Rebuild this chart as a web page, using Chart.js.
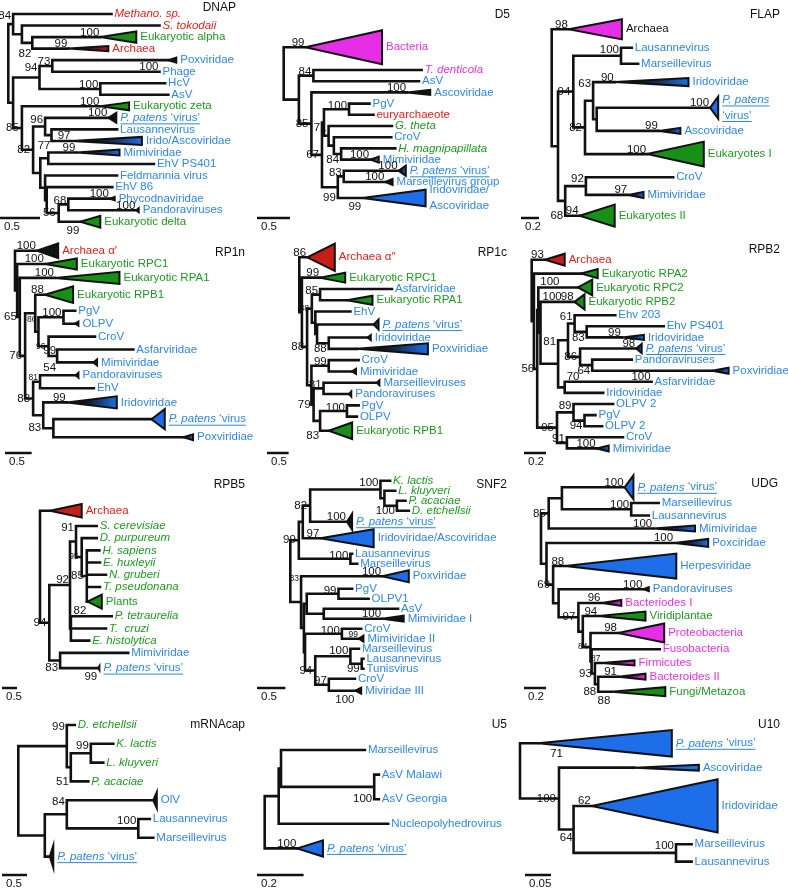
<!DOCTYPE html>
<html>
<head>
<meta charset="utf-8">
<script src="https://cdn.jsdelivr.net/npm/chart.js@4.4.0/dist/chart.umd.min.js"></script>
<style>
  body { margin: 0; background: #fff; }
  #wrap { position: relative; width: 788px; height: 890px; }
  #wrap canvas { position: absolute; left: 0; top: 0; }
</style>
</head>
<body>
<div id="wrap"></div>
<script>
// Trees: internal node = {x, s (support), p (label spot), k: children}
// leaf = {n: label, c: label colour, x: tip or clade apex, e: clade end, h: clade half height (rows), t: clade fill, r: rows taken}
// x is distance from the root in substitutions per site.
// '*' toggles italics, '_' underlines, '|' breaks the line.

const dnapTree = {x:0, k:[
  {x:.06, s:'84', p:'lt', k:[
    {n:'*Methano. sp.*', c:'r', x:1.29},
    {x:.17, k:[
      {n:'*S. tokodaii*', c:'r', x:1.89},
      {x:.30, s:'82', p:'bl', k:[
        {n:'Eukaryotic alpha', c:'g', x:1.15, e:1.60, h:.49, t:'g', s:'100'},
        {n:'Archaea', c:'r', x:.75, e:1.25, h:.23, t:'d', s:'99'}
      ]}
    ]}
  ]},
  {x:.06, k:[
    {x:.39, s:'94', p:'lt', k:[
      {x:.55, s:'73', p:'lt', k:[
        {n:'Poxviridae', c:'b', x:2.0, e:2.10, h:.22, t:'k'},
        {n:'Phage', c:'b', x:1.89, s:'100'}
      ]},
      {x:1.15, s:'100', p:'lt', k:[
        {n:'HcV', c:'b', x:1.96},
        {n:'AsV', c:'b', x:2.0}
      ]}
    ]},
    {x:.17, s:'85', p:'ml', k:[
      {n:'Eukaryotic zeta', c:'g', x:1.15, e:1.51, h:.35, t:'g', s:'100'},
      {x:.31, s:'82', p:'ml', k:[
        {x:.46, s:'96', p:'lt', k:[
          {n:'_*P. patens* ‘virus’', c:'b', x:1.25, e:1.35, h:.43, t:'k', s:'100'},
          {x:.54, s:'77', p:'bl', k:[
            {n:'Lausannevirus', c:'b', x:1.36},
            {n:'Irido/Ascoviridae', c:'b', x:.79, e:1.67, h:.35, t:'q', s:'97'}
          ]}
        ]},
        {x:.40, k:[
          {x:.50, k:[
            {n:'Mimiviridae', c:'b', x:.85, e:1.39, h:.26, t:'q', s:'99'},
            {n:'EhV PS401', c:'b', x:1.82}
          ]},
          {x:.46, k:[
            {n:'Feldmannia virus', c:'b', x:1.36},
            {x:.48, k:[
              {n:'EhV 86', c:'b', x:1.30},
              {x:.63, s:'56', p:'ml', k:[
                {x:.75, s:'68', p:'lt', k:[
                  {n:'Phycodnaviridae', c:'b', x:1.27, e:1.33, h:.15, t:'k', s:'100'},
                  {n:'Pandoraviruses', c:'b', x:1.60, e:1.63, h:.17, t:'k', s:'100'}
                ]},
                {n:'Eukaryotic delta', c:'g', x:.90, e:1.15, h:.52, t:'g', s:'99', p:'be'}
              ]}
            ]}
          ]}
        ]}
      ]}
    ]}
  ]}
]};

const d5Tree = {x:0, k:[
  {n:'Bacteria', c:'m', x:.33, e:1.49, h:1.52, t:'m', s:'99', r:3.05},
  {x:.23, k:[
    {x:.45, s:'84', p:'lt', k:[
      {n:'*T. denticola*', c:'m', x:2.09},
      {n:'AsV', c:'b', x:2.05}
    ]},
    {x:.42, s:'85', p:'ml', k:[
      {n:'Ascoviridae', c:'b', x:1.87, e:2.22, h:.22, t:'k', s:'100'},
      {x:.58, s:'67', p:'ml', k:[
        {x:.61, k:[
          {x:.99, s:'100', p:'lt', k:[
            {n:'PgV', c:'b', x:1.30},
            {n:'euryarchaeote', c:'r', x:1.36}
          ]},
          {x:.68, s:'71', p:'lt', k:[
            {n:'*G. theta*', c:'g', x:1.64},
            {x:.76, k:[
              {n:'CroV', c:'b', x:1.63},
              {x:.87, s:'84', p:'lb', k:[
                {n:'*H. magnipapillata*', c:'g', x:1.69},
                {n:'Mimiviridae', c:'b', x:1.31, e:1.44, h:.27, t:'q', s:'100'}
              ]}
            ]}
          ]}
        ]},
        {x:.82, s:'99', p:'lb', k:[
          {x:.91, s:'83', p:'lt', k:[
            {n:'_*P. patens* ‘virus’', c:'b', x:1.74, e:1.85, h:.45, t:'q', s:'100'},
            {n:'Marseillevirus group', c:'b', x:1.54, e:1.65, h:.27, t:'k', s:'100'}
          ]},
          {n:'Iridoviridae/|Ascoviridae', c:'b', x:1.19, e:2.15, h:.74, t:'b', s:'99', p:'be', r:1.86}
        ]}
      ]}
    ]}
  ]}
]};

const flapTree = {x:0, k:[
  {n:'Archaea', c:'k', x:.19, e:.78, h:.63, t:'m', s:'98', r:1.3},
  {x:.07, k:[
    {x:.24, s:'94', p:'ml', k:[
      {x:.77, s:'100', p:'lt', k:[
        {n:'Lausannevirus', c:'b', x:.89},
        {n:'Marseillevirus', c:'b', x:.96}
      ]},
      {x:.37, s:'82', p:'ml', k:[
        {x:.46, s:'63', p:'lt', k:[
          {n:'Iridoviridae', c:'b', x:.70, e:1.52, h:.25, t:'q', s:'90', r:1.3},
          {x:.50, k:[
            {n:'_*P. patens*|‘virus’', c:'b', x:1.76, e:1.85, h:.69, t:'b', s:'100', r:1.9},
            {n:'Ascoviridae', c:'b', x:1.19, e:1.43, h:.19, t:'q', s:'99'}
          ]}
        ]},
        {n:'Eukaryotes I', c:'g', x:1.06, e:1.69, h:.78, t:'g', s:'100', r:1.9}
      ]}
    ]},
    {x:.15, s:'68', p:'lb', k:[
      {x:.38, s:'92', p:'lt', k:[
        {n:'CroV', c:'b', x:1.35},
        {n:'Mimiviridae', c:'b', x:.85, e:1.02, h:.19, t:'q', s:'97', r:1.2}
      ]},
      {n:'Eukaryotes II', c:'g', x:.31, e:.70, h:.69, t:'g', s:'94', r:1.4}
    ]}
  ]}
]};

const rp1nTree = {x:0, k:[
  {n:'Archaea α′', c:'r', x:.41, e:.81, h:.57, t:'k', s:'100'},
  {x:.04, k:[
    {n:'Eukaryotic RPC1', c:'g', x:.56, e:1.16, h:.43, t:'g', s:'100', r:1.06},
    {x:.09, s:'65', p:'ml', k:[
      {n:'Eukaryotic RPA1', c:'g', x:.75, e:1.96, h:.47, t:'g', s:'100', r:1.1},
      {x:.19, s:'76', p:'ml', k:[
        {x:.38, k:[
          {n:'Eukaryotic RPB1', c:'g', x:.56, e:1.09, h:.64, t:'g', s:'88', r:1.5},
          {x:.44, s:'86', p:'lt', z:1, k:[
            {x:.91, s:'100', p:'lt', k:[
              {n:'PgV', c:'b', x:1.13},
              {n:'OLPV', c:'b', x:1.13, e:1.19, h:.16, t:'k'}
            ]},
            {x:.63, s:'96', p:'ml', z:1, k:[
              {n:'CroV', c:'b', x:1.5},
              {x:.79, s:'99', p:'ab', s2:'54', p2:'bl', k:[
                {n:'Asfarviridae', c:'b', x:2.22},
                {n:'Mimiviridae', c:'b', x:1.47, e:1.54, h:.23, t:'q'}
              ]}
            ]}
          ]}
        ]},
        {x:.34, s:'83', p:'ml', k:[
          {x:.47, s:'81', p:'lt', z:1, k:[
            {n:'Pandoraviruses', c:'b', x:1.14, e:1.19, h:.19, t:'k'},
            {n:'EhV', c:'b', x:1.48}
          ]},
          {x:.53, s:'83', p:'lb', k:[
            {n:'Iridoviridae', c:'b', x:.97, e:1.91, h:.47, t:'q', s:'99', r:1.2},
            {x:.72, k:[
              {n:'_*P. patens* ‘virus', c:'b', x:2.56, e:2.81, h:.78, t:'b', r:1.4},
              {n:'Poxviridiae', c:'b', x:3.16, e:3.34, h:.23, t:'q', r:1.4}
            ]}
          ]}
        ]}
      ]}
    ]}
  ]}
]};

const rp1cTree = {x:0, k:[
  {n:'Archaea α″', c:'r', x:.18, e:.82, h:1.21, t:'r', s:'86', r:2.6},
  {x:.06, k:[
    {n:'Eukaryotic RPC1', c:'g', x:.48, e:1.06, h:.44, t:'g', s:'99'},
    {x:.18, s:'88', p:'ml', k:[
      {x:.29, s:'88', p:'ml', z:1, k:[
        {x:.48, s:'85', p:'lt', k:[
          {n:'Asfarviridae', c:'b', x:2.14},
          {n:'Eukaryotic RPA1', c:'g', x:1.10, e:1.69, h:.4, t:'g'}
        ]},
        {x:.37, k:[
          {n:'EhV', c:'b', x:1.18},
          {x:.41, k:[
            {n:'_*P. patens* ‘virus’', c:'b', x:1.72, e:1.83, h:.44, t:'q', r:1.3},
            {x:.68, s:'88', p:'lb', k:[
              {n:'Iridoviridae', c:'b', x:1.58, e:1.65, h:.22, t:'k'},
              {n:'Poxviridiae', c:'b', x:1.33, e:2.97, h:.49, t:'q'}
            ]}
          ]}
        ]}
      ]},
      {x:.28, k:[
        {x:.68, s:'99', p:'lt', k:[
          {n:'CroV', c:'b', x:1.37},
          {n:'Mimiviridae', c:'b', x:1.22, e:1.31, h:.22, t:'k'}
        ]},
        {x:.33, s:'79', p:'ml', k:[
          {x:.56, s:'81', p:'lt', k:[
            {n:'Marseilleviruses', c:'b', x:1.79, e:1.85, h:.22, t:'k'},
            {n:'Pandoraviruses', c:'b', x:1.15, e:1.2, h:.22, t:'k'}
          ]},
          {x:.48, s:'83', p:'bl', k:[
            {x:1.1, s:'100', p:'lt', k:[
              {n:'PgV', c:'b', x:1.37},
              {n:'OLPV', c:'b', x:1.33}
            ]},
            {n:'Eukaryotic RPB1', c:'g', x:.68, e:1.22, h:.73, t:'g', r:1.5}
          ]}
        ]}
      ]}
    ]}
  ]}
]};

const rpb2Tree = {x:0, k:[
  {n:'Archaea', c:'r', x:.12, e:.30, h:.54, t:'r', s:'93', r:1.2},
  {x:.02, k:[
    {n:'Eukaryotic RPA2', c:'g', x:.45, e:.60, h:.41, t:'g', r:1.3},
    {x:.05, s:'56', p:'ml', k:[
      {x:.06, s:'100', p:'at', k:[
        {n:'Eukaryotic RPC2', c:'g', x:.42, e:.55, h:.7, t:'g', r:1.2},
        {x:.08, s:'100', p:'at', k:[
          {n:'Eukaryotic RPB2', c:'g', x:.39, e:.48, h:.68, t:'g', s:'98', r:1.4},
          {x:.24, s:'81', p:'lt', k:[
            {x:.33, k:[
              {x:.39, s:'61', p:'lt', k:[
                {n:'Ehv 203', c:'b', x:.76},
                {x:.50, s:'83', p:'lb', k:[
                  {n:'Ehv PS401', c:'b', x:1.2},
                  {n:'Iridoviridae', c:'b', x:.82, e:1.02, h:.23, t:'q', s:'99'}
                ]}
              ]},
              {x:.44, s:'86', p:'ml', k:[
                {n:'_*P. patens* ‘virus’', c:'b', x:.95, e:1.0, h:.41, t:'q', s:'98'},
                {x:.55, s:'64', p:'lb', k:[
                  {n:'Pandoraviruses', c:'b', x:.91},
                  {n:'Poxviridiae', c:'b', x:1.64, e:1.79, h:.27, t:'q'}
                ]}
              ]}
            ]},
            {x:.30, s:'70', p:'at', k:[
              {n:'Asfarviridae', c:'b', x:1.09, s:'100'},
              {n:'Iridoviridae', c:'b', x:.65}
            ]}
          ]}
        ]}
      ]},
      {x:.23, s:'95', p:'ml', k:[
        {x:.38, s:'89', p:'lt', k:[
          {n:'OLPV 2', c:'b', x:.74},
          {x:.48, s:'94', p:'lb', k:[
            {n:'PgV', c:'b', x:.58},
            {n:'OLPV 2', c:'b', x:.64}
          ]}
        ]},
        {x:.32, s:'91', p:'lt', k:[
          {n:'CroV', c:'b', x:.83},
          {n:'Mimiviridae', c:'b', x:.59, e:.70, h:.27, t:'q', s:'100'}
        ]}
      ]}
    ]}
  ]}
]};

const rpb5Tree = {x:0, k:[
  {n:'Archaea', c:'r', x:.33, e:1.39, h:.55, t:'r', r:1.5},
  {x:.31, s:'94', p:'ml', k:[
    {x:1.0, s:'92', p:'ab', k:[
      {x:1.2, s:'91', p:'lt', k:[
        {n:'*S. cerevisiae*', c:'g', x:1.89},
        {x:1.39, s:'95', p:'ml', z:1, k:[
          {n:'*D. purpureum*', c:'g', x:1.89},
          {x:1.56, s:'85', p:'ml', k:[
            {n:'*H. sapiens*', c:'g', x:1.98},
            {n:'*E. huxleyii*', c:'g', x:2.0},
            {n:'*N. gruberi*', c:'g', x:2.2},
            {n:'*T. pseudonana*', c:'g', x:2.0},
            {n:'Plants', c:'g', x:1.58, e:2.06, h:.57, t:'g', s:'82', p:'be', r:1.4}
          ]}
        ]}
      ]},
      {x:1.03, k:[
        {n:'*P. tetraurelia*', c:'g', x:2.39},
        {n:'*T.  cruzi*', c:'g', x:2.2},
        {n:'*E. histolytica*', c:'g', x:1.64}
      ]}
    ]},
    {x:.67, s:'83', p:'lb', k:[
      {n:'Mimiviridae', c:'b', x:2.94},
      {n:'_*P. patens* ‘virus’', c:'b', x:1.94, e:1.98, h:.16, t:'k', s:'99', p:'be', r:1.5}
    ]}
  ]}
]};

const snf2Tree = {x:0, k:[
  {x:.15, s:'99', p:'ml', k:[
    {x:.22, k:[
      {x:.35, s:'82', p:'ml', k:[
        {x:1.59, s:'100', p:'lt', k:[
          {n:'*K. lactis*', c:'g', x:1.76},
          {x:1.66, k:[
            {n:'*L. kluyveri*', c:'g', x:1.85},
            {x:1.88, s:'100', p:'lb', k:[
              {n:'*P. acaciae*', c:'g', x:2.03},
              {n:'*D. etchellsii*', c:'g', x:2.09}
            ]}
          ]}
        ]},
        {n:'_*P. patens* ‘virus’', c:'b', x:1.0, e:1.09, h:.8, t:'k', s:'100', r:1.2}
      ]},
      {n:'Iridoviridae/Ascoviridae', c:'b', x:.53, e:1.47, h:.9, t:'b', s:'97', r:2.1}
    ]},
    {x:1.06, s:'100', p:'lt', k:[
      {n:'Lausannevirus', c:'b', x:1.09},
      {n:'Marseillevirus', c:'b', x:1.18}
    ]}
  ]},
  {x:.19, s:'83', p:'lt', z:1, k:[
    {n:'Poxviridae', c:'b', x:1.62, e:2.09, h:.6, t:'b', s:'100', r:1.5},
    {x:.24, k:[
      {x:.29, k:[
        {x:.85, s:'99', p:'lt', k:[
          {n:'PgV', c:'b', x:1.09},
          {n:'OLPV1', c:'b', x:1.38}
        ]},
        {x:.59, k:[
          {n:'AsV', c:'b', x:1.9},
          {n:'Mimiviridae I', c:'b', x:1.62, e:2.0, h:.3, t:'k', s:'100'}
        ]}
      ]},
      {x:.26, k:[
        {x:.91, s:'100', p:'lt', k:[
          {n:'CroV', c:'b', x:1.25},
          {n:'Mimiviridae II', c:'b', x:1.21, e:1.29, h:.3, t:'k', s:'99', z:1}
        ]},
        {x:.44, s:'94', p:'ml', k:[
          {x:1.06, s:'100', p:'lt', k:[
            {n:'Marseillevirus', c:'b', x:1.21},
            {x:1.26, s:'99', p:'lb', k:[
              {n:'Lausannevirus', c:'b', x:1.29},
              {n:'Tunisvirus', c:'b', x:1.29}
            ]}
          ]},
          {x:.68, s:'97', p:'lt', k:[
            {n:'CroV', c:'b', x:1.14},
            {n:'Miviridae III', c:'b', x:1.15, e:1.25, h:.3, t:'k', s:'100', p:'be', r:1.4}
          ]}
        ]}
      ]}
    ]}
  ]}
]};

const udgTree = {x:0, k:[
  {x:.07, s:'85', p:'ml', k:[
    {x:.19, k:[
      {n:'_*P. patens* ‘virus’', c:'b', x:.76, e:.84, h:.96, t:'b', s:'100', r:1.5},
      {x:.82, s:'100', p:'lt', k:[
        {n:'Marseillevirus', c:'b', x:1.07},
        {n:'Lausannevirus', c:'b', x:.98}
      ]}
    ]},
    {n:'Mimiviridae', c:'b', x:1.02, e:1.4, h:.24, t:'q', s:'100', r:1.1}
  ]},
  {x:.05, k:[
    {n:'Poxciridae', c:'b', x:1.21, e:1.52, h:.32, t:'q', s:'100', r:1.2},
    {x:.11, s:'69', p:'ml', k:[
      {n:'Herpesviridae', c:'b', x:.22, e:1.23, h:1.0, t:'b', s:'88', r:2.5},
      {x:.16, k:[
        {n:'Pandoraviruses', c:'b', x:.93, e:.98, h:.16, t:'k', s:'100', r:1.2},
        {x:.34, s:'97', p:'ml', k:[
          {n:'Bacteriodes I', c:'m', x:.55, e:.73, h:.24, t:'n', s:'96'},
          {x:.38, k:[
            {n:'Viridiplantae', c:'g', x:.52, e:.95, h:.36, t:'g', s:'94', r:1.1},
            {x:.45, s:'84', p:'ml', z:1, k:[
              {n:'Proteobacteria', c:'m', x:.70, e:1.12, h:.76, t:'m', s:'98', r:1.6},
              {x:.46, k:[
                {n:'Fusobacteria', c:'m', x:1.08},
                {x:.49, s:'93', p:'ml', k:[
                  {n:'Firmicutes', c:'m', x:.55, e:.85, h:.2, t:'n', s:'87', z:1, r:1.2},
                  {x:.52, s:'88', p:'lb', k:[
                    {n:'Bacteroides II', c:'m', x:.70, e:.95, h:.24, t:'n', s:'91'},
                    {n:'Fungi/Metazoa', c:'g', x:.64, e:1.13, h:.36, t:'g', s:'88', p:'be', r:1.4}
                  ]}
                ]}
              ]}
            ]}
          ]}
        ]}
      ]}
    ]}
  ]}
]};

const mrnaTree = {x:0, k:[
  {x:.97, s:'99', p:'lt', k:[
    {n:'*D. etchellsii*', c:'g', x:1.13},
    {x:1.05, s:'51', p:'lb', k:[
      {x:1.45, s:'99', p:'lt', k:[
        {n:'*K. lactis*', c:'g', x:1.9},
        {n:'*L. kluyveri*', c:'g', x:1.7}
      ]},
      {n:'*P. acaciae*', c:'g', x:1.4}
    ]}
  ]},
  {x:.53, k:[
    {x:.97, s:'84', p:'lt', k:[
      {n:'OlV', c:'b', x:2.7, e:2.77, h:.43, t:'k'},
      {x:2.4, s:'100', p:'lt', k:[
        {n:'Lausannevirus', c:'b', x:2.63},
        {n:'Marseillevirus', c:'b', x:2.7}
      ]}
    ]},
    {n:'_*P. patens* ‘virus’', c:'b', x:.63, e:.7, h:.59, t:'k'}
  ]}
]};

const u5Tree = {x:0, k:[
  {x:.06, k:[
    {x:.07, k:[
      {n:'Marseillevirus', c:'b', x:.43},
      {x:.47, s:'100', p:'lb', k:[
        {n:'AsV Malawi', c:'b', x:.49},
        {n:'AsV Georgia', c:'b', x:.49}
      ]}
    ]},
    {n:'Nucleopolyhedrovirus', c:'b', x:.53}
  ]},
  {n:'_*P. patens* ‘virus’', c:'b', x:.14, e:.25, h:.33, t:'b', s:'100'}
]};

const u10Tree = {x:0, k:[
  {n:'_*P. patens* ‘virus’', c:'b', x:.035, e:.292, h:.76, t:'b', s:'71', p:'br', r:1.8},
  {x:.075, s:'100', p:'ml', k:[
    {n:'Ascoviridae', c:'b', x:.22, e:.344, h:.17, t:'b'},
    {x:.103, s:'64', p:'be', k:[
      {n:'Iridoviridae', c:'b', x:.138, e:.38, h:1.53, t:'b', s:'62', r:3.4},
      {x:.30, s:'100', p:'lt', k:[
        {n:'Marseillevirus', c:'b', x:.33},
        {n:'Lausannevirus', c:'b', x:.33}
      ]}
    ]}
  ]}
]};

const titles = ['DNAP','D5','FLAP','RP1n','RP1c','RPB2','RPB5','SNF2','UDG','mRNAcap','U5','U10'];
const trees = [dnapTree, d5Tree, flapTree, rp1nTree, rp1cTree, rpb2Tree, rpb5Tree, snf2Tree, udgTree, mrnaTree, u5Tree, u10Tree];
const scaleBars = [0.5, 0.5, 0.2, 0.5, 0.5, 0.2, 0.5, 0.5, 0.2, 0.5, 0.2, 0.05];

// page layout for each panel (pixels)
const layout = [
  {rootX:8.3,   ppu:80,   firstY:14,    rowPx:11.54, titleX:236, titleY:8,   barX:0,   barY:218},
  {rootX:283.7, ppu:66,   firstY:47.3,  rowPx:11.2,  titleX:510, titleY:15,  barX:257, barY:218},
  {rootX:551.7, ppu:90,   firstY:29.3,  rowPx:16,    titleX:780, titleY:15,  barX:521, barY:218},
  {rootX:15,    ppu:53.3, firstY:250.7, rowPx:12.9,  titleX:245, titleY:253, barX:5,   barY:453},
  {rootX:299.3, ppu:43.3, firstY:257.3, rowPx:11.3,  titleX:507, titleY:253, barX:267, barY:453},
  {rootX:531.7, ppu:110,  firstY:259.7, rowPx:11.1,  titleX:780, titleY:250, barX:524, barY:453},
  {rootX:40,    ppu:30,   firstY:510.7, rowPx:12.2,  titleX:245, titleY:485, barX:2,   barY:688},
  {rootX:290.3, ppu:56.7, firstY:480.7, rowPx:10,    titleX:507, titleY:485, barX:257, barY:688},
  {rootX:541,   ppu:110,  firstY:487.3, rowPx:12.5,  titleX:778, titleY:484, barX:524, barY:688},
  {rootX:18.3,  ppu:50,   firstY:725,   rowPx:18.8,  titleX:245, titleY:725, barX:2,   barY:875},
  {rootX:264.7, ppu:233,  firstY:750,   rowPx:24.6,  titleX:507, titleY:725, barX:257, barY:875},
  {rootX:520,   ppu:520,  firstY:743.3, rowPx:17.4,  titleX:780, titleY:725, barX:525, barY:875}
];

const W = 788, H = 890;
const FONT = '"Liberation Sans", Arial, Helvetica, sans-serif';
const INK = '#111111';
const TEXT = {r:'#e3201b', g:'#1f9a20', b:'#2f86e8', m:'#e633e6', k:'#111111'};
// plain fills, or [apex colour, base colour] for shaded clades
const FILL = {r:'#c42019', d:['#111111', '#b01c16'], g:'#189018', b:'#1d6ee8',
              q:['#111111', '#1d6ee8'], m:'#e52ee5', n:['#3a0a3a', '#e52ee5'], k:'#111111'};

function drawRich(ctx, str, x, y, color, size) {
  let ul = false;
  if (str[0] === '_') { ul = true; str = str.slice(1); }
  const lines = str.split('|');
  const lh = size * 1.35;
  ctx.fillStyle = color;
  ctx.textBaseline = 'middle';
  ctx.textAlign = 'left';
  lines.forEach((line, i) => {
    const yy = y + (i - (lines.length - 1) / 2) * lh;
    let cx = x;
    line.split('*').forEach((seg, j) => {
      if (!seg) return;
      ctx.font = (j % 2 ? 'italic ' : '') + size + 'px ' + FONT;
      ctx.fillText(seg, cx, yy);
      cx += ctx.measureText(seg).width;
    });
    if (ul) ctx.fillRect(x, yy + size * 0.48, cx - x, 1);
  });
}

function supportSpot(n, place, X, Y) {
  const nx = X(n.x), ny = Y(n.row);
  const top = n.k ? Y(n.k[0].row) : ny;
  const bot = n.k ? Y(n.k[n.k.length - 1].row) : ny;
  switch (place) {
    case 'lt': return [nx - 2, top + 2, 'right', 'middle'];
    case 'lb': return [nx - 2, bot, 'right', 'middle'];
    case 'bl': return [nx - 1, bot + 5, 'right', 'middle'];
    case 'ml': return [nx - 3, ny, 'right', 'middle'];
    case 'be': return [nx - 1, ny + 3, 'right', 'top'];
    case 'at': return [nx + 2, top - 2, 'left', 'alphabetic'];
    case 'br': return [nx + 12, ny + 5, 'left', 'top'];
    default:   return [nx - 1, ny - 1.5, 'right', 'alphabetic'];
  }
}

function treePlugin(title, bar, L, nodes, leaves) {
  return {
    id: 'tree',
    afterDatasetsDraw(chart) {
      const ctx = chart.ctx;
      const X = v => chart.scales.x.getPixelForValue(v);
      const Y = v => chart.scales.y.getPixelForValue(v);
      ctx.save();
      // collapsed clades
      leaves.forEach(l => {
        if (l.e === undefined) return;
        const ax = X(l.x), ex = X(l.e);
        ctx.beginPath();
        ctx.moveTo(ax, Y(l.row));
        ctx.lineTo(ex, Y(l.row - l.h));
        ctx.lineTo(ex, Y(l.row + l.h));
        ctx.closePath();
        const f = FILL[l.t];
        if (Array.isArray(f)) {
          const g = ctx.createLinearGradient(ax, 0, ex, 0);
          g.addColorStop(0, f[0]);
          g.addColorStop(0.35, f[0]);
          g.addColorStop(1, f[1]);
          ctx.fillStyle = g;
        } else {
          ctx.fillStyle = f;
        }
        ctx.fill();
        ctx.lineWidth = 2;
        ctx.lineJoin = 'miter';
        ctx.strokeStyle = INK;
        ctx.stroke();
      });
      // tip labels
      leaves.forEach(l => {
        const tx = X(l.e !== undefined ? l.e : l.x) + (l.e !== undefined ? 4 : 3);
        drawRich(ctx, l.n, tx, Y(l.row), TEXT[l.c], 11.5);
      });
      // support values
      nodes.forEach(n => {
        [[n.s, n.p], [n.s2, n.p2]].forEach(([s, p]) => {
          if (!s) return;
          const place = p || (n.k ? 'lt' : 'ab');
          const [sx, sy, al, bl] = supportSpot(n, place, X, Y);
          ctx.font = (n.z ? 8.5 : 11.5) + 'px ' + FONT;
          ctx.fillStyle = INK;
          ctx.textAlign = al;
          ctx.textBaseline = bl;
          ctx.fillText(s, sx, sy);
        });
      });
      // title
      ctx.font = '12px ' + FONT;
      ctx.fillStyle = INK;
      ctx.textAlign = 'right';
      ctx.textBaseline = 'middle';
      ctx.fillText(title, L.titleX, L.titleY);
      // scale bar
      const len = X(bar) - X(0);
      ctx.lineWidth = 2.5;
      ctx.strokeStyle = INK;
      ctx.beginPath();
      ctx.moveTo(L.barX, L.barY);
      ctx.lineTo(L.barX + len, L.barY);
      ctx.stroke();
      ctx.font = '11.5px ' + FONT;
      ctx.textAlign = 'left';
      ctx.fillText(String(bar), L.barX + 4, L.barY + 9);
      ctx.restore();
    }
  };
}

const wrap = document.getElementById('wrap');
trees.forEach((tree, i) => {
  const L = layout[i];
  const leaves = [], nodes = [];
  (function walk(n) { nodes.push(n); if (n.k) n.k.forEach(walk); else leaves.push(n); })(tree);
  leaves.forEach((l, j) => {
    l.row = j === 0 ? 0 : leaves[j - 1].row + ((leaves[j - 1].r || 1) + (l.r || 1)) / 2;
  });
  (function setRow(n) {
    if (!n.k) return;
    n.k.forEach(setRow);
    n.row = (n.k[0].row + n.k[n.k.length - 1].row) / 2;
  })(tree);
  const pts = [];
  (function branch(n) {
    if (!n.k) return;
    pts.push({x: n.x, y: n.k[0].row}, {x: n.x, y: n.k[n.k.length - 1].row}, {x: null, y: null});
    n.k.forEach(c => {
      pts.push({x: n.x, y: c.row}, {x: c.x, y: c.row}, {x: null, y: null});
      branch(c);
    });
  })(tree);

  const cv = document.createElement('canvas');
  cv.width = W; cv.height = H;
  wrap.appendChild(cv);
  new Chart(cv, {
    type: 'scatter',
    data: {datasets: [{
      data: pts,
      showLine: true,
      spanGaps: false,
      borderColor: INK,
      borderWidth: 2.6,
      borderCapStyle: 'square',
      pointRadius: 0,
      pointHoverRadius: 0
    }]},
    options: {
      responsive: false,
      animation: false,
      devicePixelRatio: 1,
      layout: {padding: 0},
      events: [],
      plugins: {legend: {display: false}, tooltip: {enabled: false}},
      scales: {
        x: {type: 'linear', display: false, min: -L.rootX / L.ppu, max: (W - L.rootX) / L.ppu},
        y: {type: 'linear', display: false, reverse: true, min: -L.firstY / L.rowPx, max: (H - L.firstY) / L.rowPx}
      }
    },
    plugins: [treePlugin(titles[i], scaleBars[i], L, nodes, leaves)]
  });
});
</script>
</body>
</html>
